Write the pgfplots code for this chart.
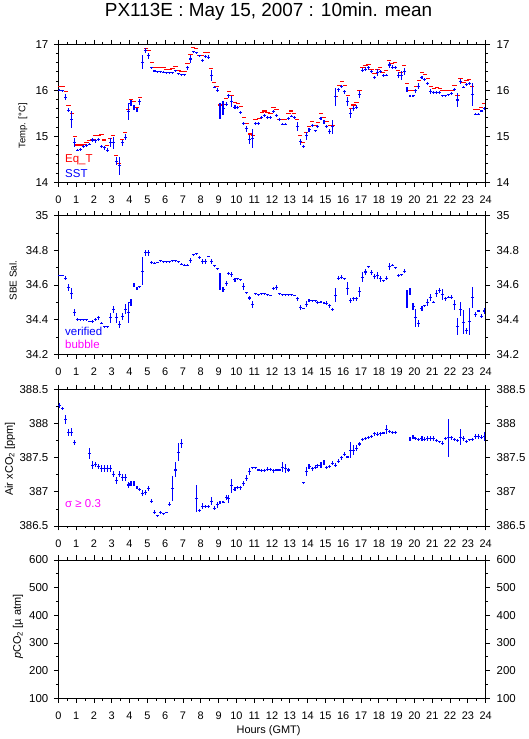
\documentclass[border=0pt]{standalone}
\usepackage{fontspec}
\setmainfont{Liberation Sans}
\usepackage{pgfplots}
\usepackage{pgfplotstable}
\pgfplotsset{compat=1.18}
\definecolor{pblue}{RGB}{0,0,255}
\definecolor{pred}{RGB}{255,0,0}
\definecolor{pmag}{RGB}{255,0,255}

% Eq_T (red dashes): hour, degC
\pgfplotstableread{
x y
0.08 16.08
0.25 16.08
0.42 15.98
0.58 15.67
0.75 15.50
0.92 14.99
1.08 14.81
1.25 14.81
1.42 14.83
1.58 14.86
1.75 14.91
1.92 14.92
2.08 15.01
2.25 15.02
2.42 15.04
2.58 14.92
2.75 14.80
2.92 14.96
3.08 15.01
3.25 14.58
3.42 14.41
3.58 14.93
3.75 15.08
3.92 15.59
4.08 15.80
4.25 15.75
4.42 15.63
4.58 15.84
4.92 16.91
5.08 16.86
5.25 16.61
5.42 16.50
5.58 16.50
5.75 16.50
5.92 16.50
6.08 16.46
6.25 16.46
6.42 16.47
6.58 16.51
6.75 16.44
6.92 16.41
7.08 16.41
7.25 16.59
7.42 16.77
7.58 16.93
7.75 16.91
7.92 16.75
8.08 16.75
8.25 16.83
8.42 16.83
8.58 16.48
8.75 16.17
8.92 16.09
9.08 15.68
9.25 15.70
9.42 15.83
9.58 15.97
9.75 15.88
9.92 15.74
10.08 15.72
10.25 15.64
10.42 15.41
10.58 15.28
10.75 15.05
10.92 15.01
11.08 15.37
11.25 15.39
11.42 15.51
11.58 15.55
11.75 15.51
11.92 15.50
12.08 15.62
12.25 15.59
12.42 15.37
12.58 15.37
12.75 15.37
12.92 15.50
13.08 15.55
13.25 15.50
13.42 15.37
13.58 15.02
13.75 14.87
13.92 15.09
14.08 15.21
14.25 15.33
14.42 15.23
14.58 15.30
14.75 15.50
14.92 15.41
15.08 15.32
15.25 15.23
15.42 15.23
15.58 15.86
15.75 16.10
15.92 16.19
16.08 16.10
16.25 15.88
16.42 15.61
16.58 15.68
16.75 15.74
16.92 15.99
17.08 16.50
17.25 16.54
17.42 16.57
17.58 16.46
17.75 16.37
17.92 16.46
18.08 16.49
18.25 16.39
18.42 16.43
18.58 16.64
18.75 16.59
18.92 16.61
19.08 16.43
19.25 16.39
19.42 16.54
19.58 16.15
19.75 15.99
19.92 15.99
20.08 16.08
20.25 16.21
20.42 16.38
20.58 16.35
20.75 16.26
20.92 16.08
21.08 16.04
21.25 16.06
21.42 16.04
21.58 15.99
21.75 15.99
21.92 15.99
22.08 15.99
22.25 16.10
22.42 15.88
22.58 16.25
22.75 16.17
22.92 16.22
23.08 16.24
23.25 16.08
23.42 15.59
23.58 15.59
23.75 15.63
23.92 15.72
}\eqt

% SST (blue crosses): hour, degC, std
\pgfplotstableread{
x y ey
0.08 16.00 0.02
0.25 15.99 0.02
0.42 15.85 0.07
0.58 15.57 0.05
0.75 15.36 0.18
0.92 14.86 0.10
1.08 14.70 0.03
1.25 14.72 0.03
1.42 14.78 0.03
1.58 14.80 0.03
1.75 14.83 0.03
1.92 14.92 0.04
2.08 14.90 0.04
2.25 14.93 0.04
2.42 14.78 0.04
2.58 14.75 0.04
2.75 14.70 0.04
2.92 14.86 0.10
3.08 14.86 0.13
3.25 14.46 0.08
3.42 14.36 0.20
3.58 14.86 0.07
3.75 14.98 0.06
3.92 15.54 0.18
4.08 15.72 0.06
4.25 15.63 0.06
4.42 15.57 0.05
4.58 15.75 0.06
4.75 16.61 0.15
4.92 16.86 0.05
5.08 16.75 0.06
5.25 16.49 0.02
5.42 16.42 0.02
5.58 16.40 0.02
5.75 16.40 0.02
5.92 16.39 0.02
6.08 16.38 0.02
6.25 16.38 0.02
6.42 16.38 0.02
6.58 16.43 0.02
6.75 16.36 0.02
6.92 16.34 0.02
7.08 16.34 0.02
7.25 16.49 0.04
7.42 16.68 0.08
7.58 16.84 0.02
7.75 16.82 0.02
7.92 16.75 0.02
8.08 16.65 0.03
8.25 16.73 0.03
8.42 16.72 0.05
8.58 16.33 0.12
8.75 16.07 0.03
8.92 16.00 0.04
9.08 15.55 0.18
9.25 15.61 0.15
9.42 15.70 0.05
9.58 15.88 0.04
9.75 15.75 0.12
9.92 15.63 0.04
10.08 15.62 0.03
10.25 15.52 0.04
10.42 15.28 0.04
10.58 15.16 0.06
10.75 14.93 0.10
10.92 14.95 0.20
11.08 15.28 0.03
11.25 15.28 0.03
11.42 15.41 0.04
11.58 15.45 0.03
11.75 15.41 0.03
11.92 15.41 0.03
12.08 15.54 0.04
12.25 15.46 0.03
12.42 15.36 0.03
12.58 15.26 0.02
12.75 15.26 0.02
12.92 15.39 0.03
13.08 15.44 0.03
13.25 15.41 0.03
13.42 15.21 0.10
13.58 14.88 0.06
13.75 14.78 0.03
13.92 15.01 0.08
14.08 15.14 0.04
14.25 15.23 0.03
14.42 15.12 0.02
14.58 15.21 0.04
14.75 15.39 0.03
14.92 15.31 0.04
15.08 15.22 0.03
15.25 15.10 0.05
15.42 15.21 0.15
15.58 15.86 0.20
15.75 16.01 0.04
15.92 16.09 0.03
16.08 15.97 0.04
16.25 15.75 0.10
16.42 15.50 0.10
16.58 15.60 0.06
16.75 15.63 0.04
16.92 15.91 0.08
17.08 16.44 0.04
17.25 16.46 0.04
17.42 16.49 0.04
17.58 16.41 0.03
17.75 16.28 0.04
17.92 16.38 0.08
18.08 16.41 0.03
18.25 16.32 0.03
18.42 16.33 0.03
18.58 16.55 0.06
18.75 16.50 0.04
18.92 16.50 0.03
19.08 16.33 0.06
19.25 16.33 0.10
19.42 16.41 0.08
19.58 16.02 0.05
19.75 15.88 0.02
19.92 15.88 0.02
20.08 15.99 0.04
20.25 16.09 0.06
20.42 16.28 0.04
20.58 16.24 0.03
20.75 16.15 0.04
20.92 15.97 0.05
21.08 15.95 0.03
21.25 15.96 0.03
21.42 15.96 0.03
21.58 15.88 0.02
21.75 15.88 0.02
21.92 15.90 0.02
22.08 15.93 0.04
22.25 16.01 0.03
22.42 15.79 0.15
22.58 16.19 0.06
22.75 16.07 0.03
22.92 16.13 0.03
23.08 16.15 0.04
23.25 15.90 0.25
23.42 15.48 0.02
23.58 15.48 0.02
23.75 15.55 0.03
23.92 15.61 0.03
}\sst

% SBE salinity: hour, psu, std
\pgfplotstableread{
x y ey
0.08 34.655 0.005
0.25 34.655 0.005
0.42 34.64 0.01
0.58 34.585 0.02
0.75 34.55 0.03
0.92 34.44 0.02
1.08 34.40 0.01
1.25 34.40 0.005
1.42 34.40 0.005
1.58 34.40 0.005
1.75 34.39 0.005
1.92 34.39 0.01
2.08 34.40 0.01
2.25 34.41 0.01
2.42 34.38 0.005
2.58 34.36 0.005
2.75 34.36 0.005
2.92 34.41 0.03
3.08 34.46 0.02
3.25 34.41 0.03
3.42 34.37 0.02
3.58 34.42 0.02
3.75 34.46 0.03
3.92 34.44 0.06
4.08 34.50 0.02
4.25 34.60 0.01
4.42 34.58 0.01
4.58 34.59 0.005
4.75 34.68 0.08
4.92 34.785 0.015
5.08 34.785 0.015
5.25 34.73 0.01
5.42 34.725 0.005
5.58 34.73 0.005
5.75 34.74 0.005
5.92 34.735 0.005
6.08 34.735 0.005
6.25 34.735 0.005
6.42 34.74 0.005
6.58 34.74 0.005
6.75 34.735 0.005
6.92 34.72 0.005
7.08 34.715 0.005
7.25 34.715 0.005
7.42 34.74 0.015
7.58 34.775 0.005
7.75 34.78 0.005
7.92 34.76 0.01
8.08 34.735 0.015
8.25 34.735 0.015
8.42 34.765 0.005
8.58 34.735 0.015
8.75 34.71 0.005
8.92 34.695 0.005
9.08 34.62 0.05
9.25 34.575 0.015
9.42 34.61 0.015
9.58 34.665 0.01
9.75 34.66 0.015
9.92 34.63 0.01
10.08 34.635 0.005
10.25 34.63 0.005
10.42 34.59 0.02
10.58 34.555 0.005
10.75 34.525 0.01
10.92 34.49 0.02
11.08 34.55 0.005
11.25 34.545 0.005
11.42 34.55 0.005
11.58 34.55 0.005
11.75 34.545 0.005
11.92 34.54 0.005
12.08 34.58 0.01
12.25 34.585 0.015
12.42 34.55 0.005
12.58 34.545 0.005
12.75 34.545 0.005
12.92 34.545 0.005
13.08 34.545 0.005
13.25 34.54 0.005
13.42 34.52 0.01
13.58 34.47 0.015
13.75 34.465 0.005
13.92 34.49 0.015
14.08 34.51 0.01
14.25 34.51 0.005
14.42 34.51 0.005
14.58 34.50 0.01
14.75 34.50 0.005
14.92 34.495 0.005
15.08 34.495 0.01
15.25 34.48 0.01
15.42 34.46 0.01
15.58 34.54 0.04
15.75 34.64 0.01
15.92 34.645 0.01
16.08 34.635 0.005
16.25 34.58 0.04
16.42 34.51 0.015
16.58 34.52 0.01
16.75 34.52 0.01
16.92 34.56 0.03
17.08 34.645 0.03
17.25 34.675 0.015
17.42 34.705 0.005
17.58 34.67 0.015
17.75 34.65 0.015
17.92 34.655 0.02
18.08 34.635 0.015
18.25 34.625 0.005
18.42 34.64 0.01
18.58 34.705 0.02
18.75 34.715 0.005
18.92 34.70 0.005
19.08 34.655 0.01
19.25 34.66 0.005
19.42 34.68 0.01
19.58 34.52 0.05
19.75 34.56 0.02
19.92 34.475 0.02
20.08 34.41 0.05
20.25 34.38 0.02
20.42 34.465 0.015
20.58 34.48 0.005
20.75 34.50 0.02
20.92 34.53 0.02
21.08 34.50 0.005
21.25 34.55 0.02
21.42 34.57 0.015
21.58 34.545 0.03
21.75 34.52 0.01
21.92 34.53 0.005
22.08 34.53 0.01
22.25 34.485 0.03
22.42 34.36 0.05
22.58 34.46 0.04
22.75 34.385 0.07
22.92 34.335 0.015
23.08 34.39 0.08
23.25 34.53 0.06
23.42 34.43 0.015
23.58 34.45 0.005
23.75 34.42 0.01
23.92 34.45 0.015
}\sal

% Air xCO2: hour, ppm, std
\pgfplotstableread{
x y ey
0.08 388.26 0.04
0.25 388.22 0.02
0.42 388.06 0.07
0.58 387.87 0.05
0.75 387.87 0.06
0.92 387.72 0.04
1.75 387.56 0.08
1.92 387.39 0.06
2.08 387.40 0.04
2.25 387.37 0.04
2.42 387.34 0.05
2.58 387.34 0.05
2.75 387.34 0.05
2.92 387.34 0.05
3.08 387.26 0.04
3.25 387.17 0.05
3.42 387.26 0.04
3.58 387.21 0.05
3.75 387.21 0.05
3.92 387.10 0.05
4.08 387.12 0.04
4.25 387.12 0.04
4.42 387.06 0.02
4.58 387.03 0.02
4.75 386.98 0.04
4.92 386.99 0.04
5.08 387.05 0.04
5.25 386.86 0.03
5.42 386.70 0.03
5.58 386.65 0.01
5.75 386.70 0.02
5.92 386.68 0.01
6.08 386.70 0.01
6.25 386.82 0.03
6.42 387.05 0.18
6.58 387.32 0.11
6.75 387.58 0.13
6.92 387.71 0.07
7.75 386.90 0.20
7.92 386.73 0.02
8.08 386.79 0.04
8.25 386.79 0.02
8.42 386.79 0.02
8.58 386.86 0.06
8.75 386.76 0.03
8.92 386.81 0.04
9.08 386.84 0.02
9.25 386.85 0.02
9.42 386.92 0.04
9.58 386.90 0.06
9.75 387.09 0.10
9.92 387.04 0.03
10.08 387.06 0.02
10.25 387.06 0.03
10.42 387.12 0.04
10.58 387.20 0.04
10.75 387.30 0.05
10.92 387.35 0.02
11.08 387.35 0.02
11.25 387.32 0.02
11.42 387.31 0.02
11.58 387.31 0.02
11.75 387.33 0.03
11.92 387.33 0.02
12.08 387.31 0.03
12.25 387.32 0.02
12.42 387.32 0.02
12.58 387.36 0.07
12.75 387.34 0.06
12.92 387.32 0.03
13.75 387.13 0.02
13.92 387.30 0.07
14.08 387.37 0.03
14.25 387.34 0.03
14.42 387.36 0.03
14.58 387.38 0.03
14.75 387.39 0.04
14.92 387.43 0.04
15.08 387.36 0.02
15.25 387.37 0.02
15.42 387.42 0.03
15.58 387.39 0.03
15.75 387.45 0.03
15.92 387.50 0.03
16.08 387.55 0.03
16.25 387.51 0.02
16.42 387.61 0.12
16.58 387.61 0.07
16.75 387.64 0.04
16.92 387.70 0.03
17.08 387.77 0.02
17.25 387.78 0.02
17.42 387.80 0.02
17.58 387.81 0.02
17.75 387.85 0.03
17.92 387.84 0.03
18.08 387.85 0.03
18.25 387.86 0.02
18.42 387.91 0.07
18.58 387.88 0.02
18.75 387.87 0.02
18.92 387.87 0.02
19.75 387.77 0.03
19.92 387.80 0.03
20.08 387.78 0.02
20.25 387.77 0.02
20.42 387.78 0.03
20.58 387.77 0.03
20.75 387.78 0.03
20.92 387.78 0.03
21.08 387.78 0.03
21.25 387.75 0.02
21.42 387.73 0.02
21.58 387.71 0.03
21.75 387.78 0.02
21.92 387.79 0.28
22.08 387.79 0.03
22.25 387.77 0.02
22.42 387.75 0.02
22.58 387.80 0.12
22.75 387.78 0.03
22.92 387.74 0.02
23.08 387.76 0.02
23.25 387.77 0.02
23.42 387.81 0.04
23.58 387.81 0.04
23.75 387.80 0.03
23.92 387.81 0.06
}\xco

\pgfplotsset{
  panel/.style={
    scale only axis, width=427.4bp, anchor=south west,
    xmin=0, xmax=24, xtick={0,1,...,24}, minor x tick num=1,
    ytick pos=left,
    tick align=outside,
    major tick length=4.5bp, minor tick length=2.5bp,
    tick style={black, line width=0.8bp},
    axis line style={line width=0.9bp},
    tick label style={font=\fontsize{11.5}{13}\selectfont},
    xticklabel style={font=\fontsize{11}{13}\selectfont, yshift=-6bp},
    /pgf/number format/assume math mode=true,
    yticklabel style={xshift=-2bp},
    ylabel style={anchor=center},
    clip=false,
  },
  rside/.style={
    scale only axis, width=427.4bp, anchor=south west,
    xmin=0, xmax=24, axis x line=none, axis y line*=right,
    tick align=outside,
    major tick length=4.5bp, minor tick length=2.5bp,
    tick style={black, line width=0.8bp},
    axis line style={line width=0.9bp},
    tick label style={font=\fontsize{11.5}{13}\selectfont},
    /pgf/number format/assume math mode=true,
    yticklabel style={xshift=3bp},
  },
  crosses/.style={draw=none, mark=none, forget plot,
    error bars/.cd, x dir=both, x fixed=0.083, y dir=both, y explicit,
    error mark=none, error bar style={draw=pblue, line width=1.1bp}},
  dashes/.style={draw=none, mark=none, forget plot,
    error bars/.cd, x dir=both, x fixed=0.12, y dir=none,
    error mark=none, error bar style={draw=pred, line width=1.1bp}},
}

\begin{document}
\begin{tikzpicture}
\useasboundingbox (0,0) rectangle (529bp,739bp);

% panel 1: temperature
\begin{axis}[panel, at={(58.3bp,556.7bp)}, height=138bp,
    ymin=14, ymax=17, ytick={14,15,16,17}, minor y tick num=4,
    ylabel={Temp. [°C]},
    ylabel style={font=\fontsize{9.5}{11}\selectfont, at={(axis description cs:-0.083,0.41)}}]
\addplot[dashes] table[x=x, y=y] {\eqt};
\addplot[crosses] table[x=x, y=y, y error=ey] {\sst};
\node[anchor=base west, pred, font=\fontsize{11.5}{13}\selectfont] at (axis description cs:0.008,0.142) {Eq\_T};
\node[anchor=base west, pblue, font=\fontsize{11.5}{13}\selectfont] at (axis description cs:0.008,0.033) {SST};
\node[anchor=base, font=\fontsize{19}{22}\selectfont] at (axis description cs:0.492,1) [yshift=27.6bp] {PX113E : May 15, 2007 : 10min. mean};
\end{axis}
\begin{axis}[rside, at={(58.3bp,556.7bp)}, height=138bp,
    ymin=14, ymax=17, ytick={14,15,16,17}, minor y tick num=4]
\end{axis}

% panel 2: salinity
\begin{axis}[panel, at={(58.3bp,384.7bp)}, height=138.6bp,
    ymin=34.2, ymax=35, ytick={34.2,34.4,34.6,34.8,35},
    yticklabels={34.2,34.4,34.6,34.8,35}, minor y tick num=1,
    ylabel={SBE Sal.},
    ylabel style={font=\fontsize{10}{12}\selectfont, at={(axis description cs:-0.106,0.531)}}]
\addplot[crosses] table[x=x, y=y, y error=ey] {\sal};
\node[anchor=base west, pblue, font=\fontsize{11.5}{13}\selectfont] at (axis description cs:0.008,0.139) {verified};
\node[anchor=base west, pmag, font=\fontsize{11.5}{13}\selectfont] at (axis description cs:0.008,0.043) {bubble};
\end{axis}
\begin{axis}[rside, at={(58.3bp,384.7bp)}, height=138.6bp,
    ymin=34.2, ymax=35, ytick={34.2,34.4,34.6,34.8,35},
    yticklabels={34.2,34.4,34.6,34.8,35}, minor y tick num=1]
\end{axis}

% panel 3: air xCO2
\begin{axis}[panel, at={(58.3bp,213bp)}, height=136.7bp,
    ymin=386.5, ymax=388.5, ytick={386.5,387,387.5,388,388.5},
    yticklabels={386.5,387,387.5,388,388.5}, minor y tick num=1,
    ylabel={Air xCO\textsubscript{2} [ppm]},
    ylabel style={font=\fontsize{11}{13}\selectfont, at={(axis description cs:-0.113,0.49)}}]
\addplot[crosses] table[x=x, y=y, y error=ey] {\xco};
\node[anchor=base west, pmag, font=\fontsize{11.5}{13}\selectfont] at (axis description cs:0.008,0.137) {σ ≥ 0.3};
\end{axis}
\begin{axis}[rside, at={(58.3bp,213bp)}, height=136.7bp,
    ymin=386.5, ymax=388.5, ytick={386.5,387,387.5,388,388.5},
    yticklabels={386.5,387,387.5,388,388.5}, minor y tick num=1]
\end{axis}

% panel 4: pCO2 (empty)
\begin{axis}[panel, at={(58.3bp,40.7bp)}, height=138.3bp,
    ymin=100, ymax=600, ytick={100,200,...,600}, minor y tick num=1,
    ylabel={\textit{p}CO\textsubscript{2} [µ atm]},
    ylabel style={font=\fontsize{11}{13}\selectfont, at={(axis description cs:-0.094,0.518)}},
    xlabel={Hours (GMT)},
    xlabel style={font=\fontsize{11}{13}\selectfont, at={(axis description cs:0.492,0)}, anchor=base, yshift=-35.4bp}]
\end{axis}
\begin{axis}[rside, at={(58.3bp,40.7bp)}, height=138.3bp,
    ymin=100, ymax=600, ytick={100,200,...,600}, minor y tick num=1]
\end{axis}
\end{tikzpicture}
\end{document}
